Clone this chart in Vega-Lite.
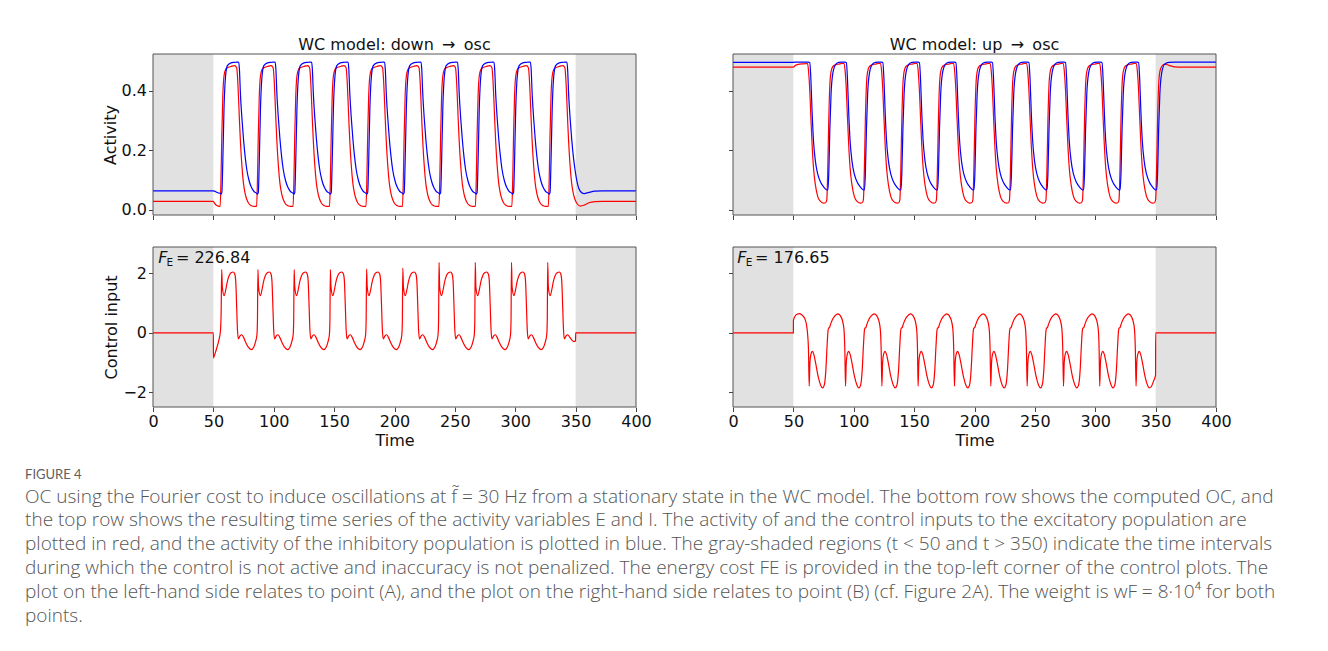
{
"$schema": "https://vega.github.io/schema/vega-lite/v6.json",
"autosize": {"type": "none"},
"padding": {"left": 153, "top": 54, "right": 1175, "bottom": 597},
"background": "white",
"columns": 2,
"bounds": "flush",
"spacing": {"row": 32, "column": 97},
"title": {
  "text": "FIGURE 4",
  "subtitle": [
    "OC using the Fourier cost to induce oscillations at f̃ = 30 Hz from a stationary state in the WC model. The bottom row shows the computed OC, and",
    "the top row shows the resulting time series of the activity variables E and I. The activity of and the control inputs to the excitatory population are",
    "plotted in red, and the activity of the inhibitory population is plotted in blue. The gray-shaded regions (t < 50 and t > 350) indicate the time intervals",
    "during which the control is not active and inaccuracy is not penalized. The energy cost FE is provided in the top-left corner of the control plots. The",
    "plot on the left-hand side relates to point (A), and the plot on the right-hand side relates to point (B) (cf. Figure 2A). The weight is wF = 8·10⁴ for both",
    "points."
  ],
  "orient": "bottom",
  "anchor": "start",
  "align": "left",
  "offset": 20,
  "dx": -77,
  "font": "Lato",
  "fontSize": 13,
  "fontWeight": 400,
  "color": "#606060",
  "subtitleFont": "Open Sans",
  "subtitleFontSize": 19,
  "subtitleFontWeight": 300,
  "subtitleColor": "#555555",
  "subtitleLineHeight": 23.8,
  "subtitlePadding": 6
},
"config": {
  "view": {"stroke": null},
  "axis": {"domain": false, "grid": false, "tickColor": "#444444", "tickSize": 4.5, "tickWidth": 1, "labelFlush": false, "labelFont": "DejaVu Sans", "labelFontSize": 16, "labelColor": "#111111", "labelPadding": 2, "titleFont": "DejaVu Sans", "titleFontSize": 16, "titleFontWeight": "normal", "titleColor": "#111111", "titlePadding": 3},
  "line": {"interpolate": "monotone", "strokeWidth": 1.2}
},
"concat": [
{
  "width": 483, "height": 161,
  "title": {"text": "WC model: down \u2009→\u2009 osc", "font": "DejaVu Sans", "fontSize": 16, "fontWeight": "normal", "color": "#111111", "offset": 1, "anchor": "middle"},
  "layer": [
    {"data": {"values": [{"a": 0, "b": 50}, {"a": 350, "b": 400}]},
     "mark": {"type": "rect", "color": "#e1e1e1"},
     "encoding": {"x": {"field": "a", "type": "quantitative", "scale": {"domain": [0, 400], "nice": false, "zero": false}, "axis": {"values": [0,50,100,150,200,250,300,350,400], "labels": false, "title": null}}, "x2": {"field": "b"}}},
    {"data": {"name": "tl"},
     "mark": {"type": "line", "color": "#ff0000"},
     "encoding": {"x": {"field": "t", "type": "quantitative", "scale": {"domain": [0, 400], "nice": false, "zero": false}, "axis": {"values": [0,50,100,150,200,250,300,350,400], "labels": false, "title": null}},
                  "y": {"field": "e", "type": "quantitative", "scale": {"domain": [-0.017, 0.524], "nice": false, "zero": false}, "axis": {"values": [0, 0.2, 0.4], "format": ".1f", "title": "Activity"}}}},
    {"data": {"name": "tl"},
     "mark": {"type": "line", "color": "#0000ff"},
     "encoding": {"x": {"field": "t", "type": "quantitative", "scale": {"domain": [0, 400], "nice": false, "zero": false}, "axis": {"values": [0,50,100,150,200,250,300,350,400], "labels": false, "title": null}},
                  "y": {"field": "i", "type": "quantitative", "scale": {"domain": [-0.017, 0.524], "nice": false, "zero": false}, "axis": {"values": [0, 0.2, 0.4], "format": ".1f", "title": "Activity"}}}},
    {"data": {"values": [{"a": 0, "b": 400, "c": -0.017, "d": 0.524}]},
     "mark": {"type": "rect", "filled": false, "stroke": "#555555", "strokeWidth": 1},
     "encoding": {"x": {"field": "a", "type": "quantitative", "scale": {"domain": [0, 400], "nice": false, "zero": false}, "axis": {"values": [0,50,100,150,200,250,300,350,400], "labels": false, "title": null}}, "x2": {"field": "b"},
                  "y": {"field": "c", "type": "quantitative", "scale": {"domain": [-0.017, 0.524], "nice": false, "zero": false}, "axis": {"values": [0, 0.2, 0.4], "format": ".1f", "title": "Activity"}}, "y2": {"field": "d"}}}
  ]
},
{
  "width": 483, "height": 161,
  "title": {"text": "WC model: up \u2009→\u2009 osc", "font": "DejaVu Sans", "fontSize": 16, "fontWeight": "normal", "color": "#111111", "offset": 1, "anchor": "middle"},
  "layer": [
    {"data": {"values": [{"a": 0, "b": 50}, {"a": 350, "b": 400}]},
     "mark": {"type": "rect", "color": "#e1e1e1"},
     "encoding": {"x": {"field": "a", "type": "quantitative", "scale": {"domain": [0, 400], "nice": false, "zero": false}, "axis": {"values": [0,50,100,150,200,250,300,350,400], "labels": false, "title": null}}, "x2": {"field": "b"}}},
    {"data": {"name": "tr"},
     "mark": {"type": "line", "color": "#ff0000"},
     "encoding": {"x": {"field": "t", "type": "quantitative", "scale": {"domain": [0, 400], "nice": false, "zero": false}, "axis": {"values": [0,50,100,150,200,250,300,350,400], "labels": false, "title": null}},
                  "y": {"field": "e", "type": "quantitative", "scale": {"domain": [-0.017, 0.524], "nice": false, "zero": false}, "axis": {"values": [0, 0.2, 0.4], "labels": false, "title": null}}}},
    {"data": {"name": "tr"},
     "mark": {"type": "line", "color": "#0000ff"},
     "encoding": {"x": {"field": "t", "type": "quantitative", "scale": {"domain": [0, 400], "nice": false, "zero": false}, "axis": {"values": [0,50,100,150,200,250,300,350,400], "labels": false, "title": null}},
                  "y": {"field": "i", "type": "quantitative", "scale": {"domain": [-0.017, 0.524], "nice": false, "zero": false}, "axis": {"values": [0, 0.2, 0.4], "labels": false, "title": null}}}},
    {"data": {"values": [{"a": 0, "b": 400, "c": -0.017, "d": 0.524}]},
     "mark": {"type": "rect", "filled": false, "stroke": "#555555", "strokeWidth": 1},
     "encoding": {"x": {"field": "a", "type": "quantitative", "scale": {"domain": [0, 400], "nice": false, "zero": false}, "axis": {"values": [0,50,100,150,200,250,300,350,400], "labels": false, "title": null}}, "x2": {"field": "b"},
                  "y": {"field": "c", "type": "quantitative", "scale": {"domain": [-0.017, 0.524], "nice": false, "zero": false}, "axis": {"values": [0, 0.2, 0.4], "labels": false, "title": null}}, "y2": {"field": "d"}}}
  ]
},
{
  "width": 483, "height": 160,
  "layer": [
    {"data": {"values": [{"a": 0, "b": 50}, {"a": 350, "b": 400}]},
     "mark": {"type": "rect", "color": "#e1e1e1"},
     "encoding": {"x": {"field": "a", "type": "quantitative", "scale": {"domain": [0, 400], "nice": false, "zero": false}, "axis": {"values": [0,50,100,150,200,250,300,350,400], "title": "Time"}}, "x2": {"field": "b"}}},
    {"data": {"name": "bl"},
     "mark": {"type": "line", "color": "#ff0000"},
     "encoding": {"x": {"field": "t", "type": "quantitative", "scale": {"domain": [0, 400], "nice": false, "zero": false}, "axis": {"values": [0,50,100,150,200,250,300,350,400], "title": "Time"}},
                  "y": {"field": "u", "type": "quantitative", "scale": {"domain": [-2.49, 2.89], "nice": false, "zero": false}, "axis": {"values": [-2, 0, 2], "title": "Control input"}}}},
    {"data": {"values": [{"a": 0, "b": 400, "c": -2.49, "d": 2.89}]},
     "mark": {"type": "rect", "filled": false, "stroke": "#555555", "strokeWidth": 1},
     "encoding": {"x": {"field": "a", "type": "quantitative", "scale": {"domain": [0, 400], "nice": false, "zero": false}, "axis": {"values": [0,50,100,150,200,250,300,350,400], "title": "Time"}}, "x2": {"field": "b"},
                  "y": {"field": "c", "type": "quantitative", "scale": {"domain": [-2.49, 2.89], "nice": false, "zero": false}, "axis": {"values": [-2, 0, 2], "title": "Control input"}}, "y2": {"field": "d"}}},
    {"data": {"values": [{"t": 4.3, "u": 2.52}]},
     "mark": {"type": "text", "text": "F", "font": "DejaVu Sans", "fontSize": 16, "fontStyle": "italic", "align": "left", "baseline": "middle", "color": "#111111"},
     "encoding": {"x": {"field": "t", "type": "quantitative", "scale": {"domain": [0, 400], "nice": false, "zero": false}, "axis": {"values": [0,50,100,150,200,250,300,350,400], "title": "Time"}},
                  "y": {"field": "u", "type": "quantitative", "scale": {"domain": [-2.49, 2.89], "nice": false, "zero": false}, "axis": {"values": [-2, 0, 2], "title": "Control input"}}}},
    {"data": {"values": [{"t": 11.2, "u": 2.36}]},
     "mark": {"type": "text", "text": "E", "font": "DejaVu Sans", "fontSize": 10.5, "align": "left", "baseline": "middle", "color": "#111111"},
     "encoding": {"x": {"field": "t", "type": "quantitative", "scale": {"domain": [0, 400], "nice": false, "zero": false}, "axis": {"values": [0,50,100,150,200,250,300,350,400], "title": "Time"}},
                  "y": {"field": "u", "type": "quantitative", "scale": {"domain": [-2.49, 2.89], "nice": false, "zero": false}, "axis": {"values": [-2, 0, 2], "title": "Control input"}}}},
    {"data": {"values": [{"t": 19, "u": 2.52}]},
     "mark": {"type": "text", "text": "= 226.84", "font": "DejaVu Sans", "fontSize": 16, "align": "left", "baseline": "middle", "color": "#111111"},
     "encoding": {"x": {"field": "t", "type": "quantitative", "scale": {"domain": [0, 400], "nice": false, "zero": false}, "axis": {"values": [0,50,100,150,200,250,300,350,400], "title": "Time"}},
                  "y": {"field": "u", "type": "quantitative", "scale": {"domain": [-2.49, 2.89], "nice": false, "zero": false}, "axis": {"values": [-2, 0, 2], "title": "Control input"}}}}
  ]
},
{
  "width": 483, "height": 160,
  "layer": [
    {"data": {"values": [{"a": 0, "b": 50}, {"a": 350, "b": 400}]},
     "mark": {"type": "rect", "color": "#e1e1e1"},
     "encoding": {"x": {"field": "a", "type": "quantitative", "scale": {"domain": [0, 400], "nice": false, "zero": false}, "axis": {"values": [0,50,100,150,200,250,300,350,400], "title": "Time"}}, "x2": {"field": "b"}}},
    {"data": {"name": "br"},
     "mark": {"type": "line", "color": "#ff0000"},
     "encoding": {"x": {"field": "t", "type": "quantitative", "scale": {"domain": [0, 400], "nice": false, "zero": false}, "axis": {"values": [0,50,100,150,200,250,300,350,400], "title": "Time"}},
                  "y": {"field": "u", "type": "quantitative", "scale": {"domain": [-2.49, 2.89], "nice": false, "zero": false}, "axis": {"values": [-2, 0, 2], "labels": false, "title": null}}}},
    {"data": {"values": [{"a": 0, "b": 400, "c": -2.49, "d": 2.89}]},
     "mark": {"type": "rect", "filled": false, "stroke": "#555555", "strokeWidth": 1},
     "encoding": {"x": {"field": "a", "type": "quantitative", "scale": {"domain": [0, 400], "nice": false, "zero": false}, "axis": {"values": [0,50,100,150,200,250,300,350,400], "title": "Time"}}, "x2": {"field": "b"},
                  "y": {"field": "c", "type": "quantitative", "scale": {"domain": [-2.49, 2.89], "nice": false, "zero": false}, "axis": {"values": [-2, 0, 2], "labels": false, "title": null}}, "y2": {"field": "d"}}},
    {"data": {"values": [{"t": 3.6, "u": 2.52}]},
     "mark": {"type": "text", "text": "F", "font": "DejaVu Sans", "fontSize": 16, "fontStyle": "italic", "align": "left", "baseline": "middle", "color": "#111111"},
     "encoding": {"x": {"field": "t", "type": "quantitative", "scale": {"domain": [0, 400], "nice": false, "zero": false}, "axis": {"values": [0,50,100,150,200,250,300,350,400], "title": "Time"}},
                  "y": {"field": "u", "type": "quantitative", "scale": {"domain": [-2.49, 2.89], "nice": false, "zero": false}, "axis": {"values": [-2, 0, 2], "labels": false, "title": null}}}},
    {"data": {"values": [{"t": 10.5, "u": 2.36}]},
     "mark": {"type": "text", "text": "E", "font": "DejaVu Sans", "fontSize": 10.5, "align": "left", "baseline": "middle", "color": "#111111"},
     "encoding": {"x": {"field": "t", "type": "quantitative", "scale": {"domain": [0, 400], "nice": false, "zero": false}, "axis": {"values": [0,50,100,150,200,250,300,350,400], "title": "Time"}},
                  "y": {"field": "u", "type": "quantitative", "scale": {"domain": [-2.49, 2.89], "nice": false, "zero": false}, "axis": {"values": [-2, 0, 2], "labels": false, "title": null}}}},
    {"data": {"values": [{"t": 18.3, "u": 2.52}]},
     "mark": {"type": "text", "text": "= 176.65", "font": "DejaVu Sans", "fontSize": 16, "align": "left", "baseline": "middle", "color": "#111111"},
     "encoding": {"x": {"field": "t", "type": "quantitative", "scale": {"domain": [0, 400], "nice": false, "zero": false}, "axis": {"values": [0,50,100,150,200,250,300,350,400], "title": "Time"}},
                  "y": {"field": "u", "type": "quantitative", "scale": {"domain": [-2.49, 2.89], "nice": false, "zero": false}, "axis": {"values": [-2, 0, 2], "labels": false, "title": null}}}}
  ]
}
],
"datasets": {
"tl": [
{"t":0,"e":0.029,"i":0.064},{"t":50,"e":0.029,"i":0.064},{"t":51,"e":0.022,"i":0.063},{"t":52.5,"e":0.016,"i":0.06},{"t":54.2,"e":0.013,"i":0.057},
{"t":55.6,"e":0.012,"i":0.056},{"t":56.3,"e":0.1,"i":0.053},{"t":57,"e":0.25,"i":0.058},{"t":57.8,"e":0.38,"i":0.16},{"t":58.8,"e":0.45,"i":0.34},{"t":60.1,"e":0.472,"i":0.45},{"t":61.6,"e":0.478,"i":0.485},{"t":64.6,"e":0.482,"i":0.494},{"t":67.6,"e":0.485,"i":0.496},{"t":69.3,"e":0.478,"i":0.497},{"t":70.1,"e":0.44,"i":0.497},{"t":70.9,"e":0.37,"i":0.496},{"t":71.6,"e":0.3,"i":0.47},{"t":72.4,"e":0.23,"i":0.39},{"t":73.6,"e":0.15,"i":0.31},{"t":74.9,"e":0.09,"i":0.24},{"t":76.3,"e":0.055,"i":0.18},{"t":77.7,"e":0.035,"i":0.135},{"t":79.6,"e":0.02,"i":0.098},{"t":81.6,"e":0.014,"i":0.075},{"t":83.6,"e":0.012,"i":0.062},
{"t":85.8,"e":0.012,"i":0.056},{"t":86.5,"e":0.1,"i":0.053},{"t":87.2,"e":0.25,"i":0.058},{"t":88,"e":0.38,"i":0.16},{"t":89,"e":0.45,"i":0.34},{"t":90.3,"e":0.472,"i":0.45},{"t":91.8,"e":0.478,"i":0.485},{"t":94.8,"e":0.482,"i":0.494},{"t":97.8,"e":0.485,"i":0.496},{"t":99.5,"e":0.478,"i":0.497},{"t":100.3,"e":0.44,"i":0.497},{"t":101.1,"e":0.37,"i":0.496},{"t":101.8,"e":0.3,"i":0.47},{"t":102.6,"e":0.23,"i":0.39},{"t":103.8,"e":0.15,"i":0.31},{"t":105.1,"e":0.09,"i":0.24},{"t":106.5,"e":0.055,"i":0.18},{"t":107.9,"e":0.035,"i":0.135},{"t":109.8,"e":0.02,"i":0.098},{"t":111.8,"e":0.014,"i":0.075},{"t":113.8,"e":0.012,"i":0.062},
{"t":116,"e":0.012,"i":0.056},{"t":116.7,"e":0.1,"i":0.053},{"t":117.4,"e":0.25,"i":0.058},{"t":118.2,"e":0.38,"i":0.16},{"t":119.2,"e":0.45,"i":0.34},{"t":120.5,"e":0.472,"i":0.45},{"t":122,"e":0.478,"i":0.485},{"t":125,"e":0.482,"i":0.494},{"t":128,"e":0.485,"i":0.496},{"t":129.7,"e":0.478,"i":0.497},{"t":130.5,"e":0.44,"i":0.497},{"t":131.3,"e":0.37,"i":0.496},{"t":132,"e":0.3,"i":0.47},{"t":132.8,"e":0.23,"i":0.39},{"t":134,"e":0.15,"i":0.31},{"t":135.3,"e":0.09,"i":0.24},{"t":136.7,"e":0.055,"i":0.18},{"t":138.1,"e":0.035,"i":0.135},{"t":140,"e":0.02,"i":0.098},{"t":142,"e":0.014,"i":0.075},{"t":144,"e":0.012,"i":0.062},
{"t":146.2,"e":0.012,"i":0.056},{"t":146.9,"e":0.1,"i":0.053},{"t":147.6,"e":0.25,"i":0.058},{"t":148.4,"e":0.38,"i":0.16},{"t":149.4,"e":0.45,"i":0.34},{"t":150.7,"e":0.472,"i":0.45},{"t":152.2,"e":0.478,"i":0.485},{"t":155.2,"e":0.482,"i":0.494},{"t":158.2,"e":0.485,"i":0.496},{"t":159.9,"e":0.478,"i":0.497},{"t":160.7,"e":0.44,"i":0.497},{"t":161.5,"e":0.37,"i":0.496},{"t":162.2,"e":0.3,"i":0.47},{"t":163,"e":0.23,"i":0.39},{"t":164.2,"e":0.15,"i":0.31},{"t":165.5,"e":0.09,"i":0.24},{"t":166.9,"e":0.055,"i":0.18},{"t":168.3,"e":0.035,"i":0.135},{"t":170.2,"e":0.02,"i":0.098},{"t":172.2,"e":0.014,"i":0.075},{"t":174.2,"e":0.012,"i":0.062},
{"t":176.4,"e":0.012,"i":0.056},{"t":177.1,"e":0.1,"i":0.053},{"t":177.8,"e":0.25,"i":0.058},{"t":178.6,"e":0.38,"i":0.16},{"t":179.6,"e":0.45,"i":0.34},{"t":180.9,"e":0.472,"i":0.45},{"t":182.4,"e":0.478,"i":0.485},{"t":185.4,"e":0.482,"i":0.494},{"t":188.4,"e":0.485,"i":0.496},{"t":190.1,"e":0.478,"i":0.497},{"t":190.9,"e":0.44,"i":0.497},{"t":191.7,"e":0.37,"i":0.496},{"t":192.4,"e":0.3,"i":0.47},{"t":193.2,"e":0.23,"i":0.39},{"t":194.4,"e":0.15,"i":0.31},{"t":195.7,"e":0.09,"i":0.24},{"t":197.1,"e":0.055,"i":0.18},{"t":198.5,"e":0.035,"i":0.135},{"t":200.4,"e":0.02,"i":0.098},{"t":202.4,"e":0.014,"i":0.075},{"t":204.4,"e":0.012,"i":0.062},
{"t":206.6,"e":0.012,"i":0.056},{"t":207.3,"e":0.1,"i":0.053},{"t":208,"e":0.25,"i":0.058},{"t":208.8,"e":0.38,"i":0.16},{"t":209.8,"e":0.45,"i":0.34},{"t":211.1,"e":0.472,"i":0.45},{"t":212.6,"e":0.478,"i":0.485},{"t":215.6,"e":0.482,"i":0.494},{"t":218.6,"e":0.485,"i":0.496},{"t":220.3,"e":0.478,"i":0.497},{"t":221.1,"e":0.44,"i":0.497},{"t":221.9,"e":0.37,"i":0.496},{"t":222.6,"e":0.3,"i":0.47},{"t":223.4,"e":0.23,"i":0.39},{"t":224.6,"e":0.15,"i":0.31},{"t":225.9,"e":0.09,"i":0.24},{"t":227.3,"e":0.055,"i":0.18},{"t":228.7,"e":0.035,"i":0.135},{"t":230.6,"e":0.02,"i":0.098},{"t":232.6,"e":0.014,"i":0.075},{"t":234.6,"e":0.012,"i":0.062},
{"t":236.8,"e":0.012,"i":0.056},{"t":237.5,"e":0.1,"i":0.053},{"t":238.2,"e":0.25,"i":0.058},{"t":239,"e":0.38,"i":0.16},{"t":240,"e":0.45,"i":0.34},{"t":241.3,"e":0.472,"i":0.45},{"t":242.8,"e":0.478,"i":0.485},{"t":245.8,"e":0.482,"i":0.494},{"t":248.8,"e":0.485,"i":0.496},{"t":250.5,"e":0.478,"i":0.497},{"t":251.3,"e":0.44,"i":0.497},{"t":252.1,"e":0.37,"i":0.496},{"t":252.8,"e":0.3,"i":0.47},{"t":253.6,"e":0.23,"i":0.39},{"t":254.8,"e":0.15,"i":0.31},{"t":256.1,"e":0.09,"i":0.24},{"t":257.5,"e":0.055,"i":0.18},{"t":258.9,"e":0.035,"i":0.135},{"t":260.8,"e":0.02,"i":0.098},{"t":262.8,"e":0.014,"i":0.075},{"t":264.8,"e":0.012,"i":0.062},
{"t":267,"e":0.012,"i":0.056},{"t":267.7,"e":0.1,"i":0.053},{"t":268.4,"e":0.25,"i":0.058},{"t":269.2,"e":0.38,"i":0.16},{"t":270.2,"e":0.45,"i":0.34},{"t":271.5,"e":0.472,"i":0.45},{"t":273,"e":0.478,"i":0.485},{"t":276,"e":0.482,"i":0.494},{"t":279,"e":0.485,"i":0.496},{"t":280.7,"e":0.478,"i":0.497},{"t":281.5,"e":0.44,"i":0.497},{"t":282.3,"e":0.37,"i":0.496},{"t":283,"e":0.3,"i":0.47},{"t":283.8,"e":0.23,"i":0.39},{"t":285,"e":0.15,"i":0.31},{"t":286.3,"e":0.09,"i":0.24},{"t":287.7,"e":0.055,"i":0.18},{"t":289.1,"e":0.035,"i":0.135},{"t":291,"e":0.02,"i":0.098},{"t":293,"e":0.014,"i":0.075},{"t":295,"e":0.012,"i":0.062},
{"t":297.2,"e":0.012,"i":0.056},{"t":297.9,"e":0.1,"i":0.053},{"t":298.6,"e":0.25,"i":0.058},{"t":299.4,"e":0.38,"i":0.16},{"t":300.4,"e":0.45,"i":0.34},{"t":301.7,"e":0.472,"i":0.45},{"t":303.2,"e":0.478,"i":0.485},{"t":306.2,"e":0.482,"i":0.494},{"t":309.2,"e":0.485,"i":0.496},{"t":310.9,"e":0.478,"i":0.497},{"t":311.7,"e":0.44,"i":0.497},{"t":312.5,"e":0.37,"i":0.496},{"t":313.2,"e":0.3,"i":0.47},{"t":314,"e":0.23,"i":0.39},{"t":315.2,"e":0.15,"i":0.31},{"t":316.5,"e":0.09,"i":0.24},{"t":317.9,"e":0.055,"i":0.18},{"t":319.3,"e":0.035,"i":0.135},{"t":321.2,"e":0.02,"i":0.098},{"t":323.2,"e":0.014,"i":0.075},{"t":325.2,"e":0.012,"i":0.062},
{"t":327.4,"e":0.012,"i":0.056},{"t":328.1,"e":0.1,"i":0.053},{"t":328.8,"e":0.25,"i":0.058},{"t":329.6,"e":0.38,"i":0.16},{"t":330.6,"e":0.45,"i":0.34},{"t":331.9,"e":0.472,"i":0.45},{"t":333.4,"e":0.478,"i":0.485},{"t":336.4,"e":0.482,"i":0.494},{"t":339.4,"e":0.485,"i":0.496},{"t":341.1,"e":0.478,"i":0.497},{"t":341.9,"e":0.44,"i":0.497},{"t":342.7,"e":0.37,"i":0.496},{"t":343.4,"e":0.3,"i":0.47},{"t":344.2,"e":0.23,"i":0.39},{"t":345.4,"e":0.15,"i":0.31},{"t":346.7,"e":0.09,"i":0.24},{"t":348.1,"e":0.055,"i":0.18},{"t":349.5,"e":0.035,"i":0.135},
{"t":351.4,"e":0.02,"i":0.09},{"t":354,"e":0.013,"i":0.062},{"t":357,"e":0.016,"i":0.055},{"t":361,"e":0.024,"i":0.059},{"t":366,"e":0.028,"i":0.063},{"t":372,"e":0.029,"i":0.064},{"t":400,"e":0.029,"i":0.064}
],
"tr": [
{"t":0,"e":0.48,"i":0.496},{"t":50,"e":0.48,"i":0.496},{"t":51.5,"e":0.485,"i":0.497},{"t":54,"e":0.489,"i":0.497},{"t":58,"e":0.491,"i":0.497},
{"t":61.7,"e":0.492,"i":0.497},{"t":62.5,"e":0.47,"i":0.497},{"t":63.6,"e":0.4,"i":0.495},{"t":64.5,"e":0.31,"i":0.44},{"t":65.5,"e":0.22,"i":0.33},{"t":66.7,"e":0.14,"i":0.23},{"t":68.2,"e":0.085,"i":0.165},{"t":70.2,"e":0.045,"i":0.12},{"t":72.7,"e":0.028,"i":0.092},{"t":75.2,"e":0.023,"i":0.077},{"t":76.7,"e":0.024,"i":0.07},{"t":77.7,"e":0.035,"i":0.067},{"t":78.5,"e":0.14,"i":0.068},{"t":79.3,"e":0.3,"i":0.12},{"t":80.2,"e":0.42,"i":0.27},{"t":81.2,"e":0.465,"i":0.39},{"t":82.7,"e":0.482,"i":0.46},{"t":85.2,"e":0.488,"i":0.49},{"t":87.7,"e":0.49,"i":0.496},{"t":90.2,"e":0.492,"i":0.497},
{"t":92,"e":0.492,"i":0.497},{"t":92.8,"e":0.47,"i":0.497},{"t":93.9,"e":0.4,"i":0.495},{"t":94.8,"e":0.31,"i":0.44},{"t":95.8,"e":0.22,"i":0.33},{"t":97,"e":0.14,"i":0.23},{"t":98.5,"e":0.085,"i":0.165},{"t":100.5,"e":0.045,"i":0.12},{"t":103,"e":0.028,"i":0.092},{"t":105.5,"e":0.023,"i":0.077},{"t":107,"e":0.024,"i":0.07},{"t":108,"e":0.035,"i":0.067},{"t":108.8,"e":0.14,"i":0.068},{"t":109.6,"e":0.3,"i":0.12},{"t":110.5,"e":0.42,"i":0.27},{"t":111.5,"e":0.465,"i":0.39},{"t":113,"e":0.482,"i":0.46},{"t":115.5,"e":0.488,"i":0.49},{"t":118,"e":0.49,"i":0.496},{"t":120.5,"e":0.492,"i":0.497},
{"t":122.2,"e":0.492,"i":0.497},{"t":123,"e":0.47,"i":0.497},{"t":124.1,"e":0.4,"i":0.495},{"t":125,"e":0.31,"i":0.44},{"t":126,"e":0.22,"i":0.33},{"t":127.2,"e":0.14,"i":0.23},{"t":128.7,"e":0.085,"i":0.165},{"t":130.7,"e":0.045,"i":0.12},{"t":133.2,"e":0.028,"i":0.092},{"t":135.7,"e":0.023,"i":0.077},{"t":137.2,"e":0.024,"i":0.07},{"t":138.2,"e":0.035,"i":0.067},{"t":139,"e":0.14,"i":0.068},{"t":139.8,"e":0.3,"i":0.12},{"t":140.7,"e":0.42,"i":0.27},{"t":141.7,"e":0.465,"i":0.39},{"t":143.2,"e":0.482,"i":0.46},{"t":145.7,"e":0.488,"i":0.49},{"t":148.2,"e":0.49,"i":0.496},{"t":150.7,"e":0.492,"i":0.497},
{"t":152.5,"e":0.492,"i":0.497},{"t":153.3,"e":0.47,"i":0.497},{"t":154.4,"e":0.4,"i":0.495},{"t":155.3,"e":0.31,"i":0.44},{"t":156.3,"e":0.22,"i":0.33},{"t":157.5,"e":0.14,"i":0.23},{"t":159,"e":0.085,"i":0.165},{"t":161,"e":0.045,"i":0.12},{"t":163.5,"e":0.028,"i":0.092},{"t":166,"e":0.023,"i":0.077},{"t":167.5,"e":0.024,"i":0.07},{"t":168.5,"e":0.035,"i":0.067},{"t":169.3,"e":0.14,"i":0.068},{"t":170.1,"e":0.3,"i":0.12},{"t":171,"e":0.42,"i":0.27},{"t":172,"e":0.465,"i":0.39},{"t":173.5,"e":0.482,"i":0.46},{"t":176,"e":0.488,"i":0.49},{"t":178.5,"e":0.49,"i":0.496},{"t":181,"e":0.492,"i":0.497},
{"t":182.7,"e":0.492,"i":0.497},{"t":183.5,"e":0.47,"i":0.497},{"t":184.6,"e":0.4,"i":0.495},{"t":185.5,"e":0.31,"i":0.44},{"t":186.5,"e":0.22,"i":0.33},{"t":187.7,"e":0.14,"i":0.23},{"t":189.2,"e":0.085,"i":0.165},{"t":191.2,"e":0.045,"i":0.12},{"t":193.7,"e":0.028,"i":0.092},{"t":196.2,"e":0.023,"i":0.077},{"t":197.7,"e":0.024,"i":0.07},{"t":198.7,"e":0.035,"i":0.067},{"t":199.5,"e":0.14,"i":0.068},{"t":200.3,"e":0.3,"i":0.12},{"t":201.2,"e":0.42,"i":0.27},{"t":202.2,"e":0.465,"i":0.39},{"t":203.7,"e":0.482,"i":0.46},{"t":206.2,"e":0.488,"i":0.49},{"t":208.7,"e":0.49,"i":0.496},{"t":211.2,"e":0.492,"i":0.497},
{"t":213,"e":0.492,"i":0.497},{"t":213.8,"e":0.47,"i":0.497},{"t":214.9,"e":0.4,"i":0.495},{"t":215.8,"e":0.31,"i":0.44},{"t":216.8,"e":0.22,"i":0.33},{"t":218,"e":0.14,"i":0.23},{"t":219.5,"e":0.085,"i":0.165},{"t":221.5,"e":0.045,"i":0.12},{"t":224,"e":0.028,"i":0.092},{"t":226.5,"e":0.023,"i":0.077},{"t":228,"e":0.024,"i":0.07},{"t":229,"e":0.035,"i":0.067},{"t":229.8,"e":0.14,"i":0.068},{"t":230.6,"e":0.3,"i":0.12},{"t":231.5,"e":0.42,"i":0.27},{"t":232.5,"e":0.465,"i":0.39},{"t":234,"e":0.482,"i":0.46},{"t":236.5,"e":0.488,"i":0.49},{"t":239,"e":0.49,"i":0.496},{"t":241.5,"e":0.492,"i":0.497},
{"t":243.2,"e":0.492,"i":0.497},{"t":244,"e":0.47,"i":0.497},{"t":245.1,"e":0.4,"i":0.495},{"t":246,"e":0.31,"i":0.44},{"t":247,"e":0.22,"i":0.33},{"t":248.2,"e":0.14,"i":0.23},{"t":249.7,"e":0.085,"i":0.165},{"t":251.7,"e":0.045,"i":0.12},{"t":254.2,"e":0.028,"i":0.092},{"t":256.7,"e":0.023,"i":0.077},{"t":258.2,"e":0.024,"i":0.07},{"t":259.2,"e":0.035,"i":0.067},{"t":260,"e":0.14,"i":0.068},{"t":260.8,"e":0.3,"i":0.12},{"t":261.7,"e":0.42,"i":0.27},{"t":262.7,"e":0.465,"i":0.39},{"t":264.2,"e":0.482,"i":0.46},{"t":266.7,"e":0.488,"i":0.49},{"t":269.2,"e":0.49,"i":0.496},{"t":271.7,"e":0.492,"i":0.497},
{"t":273.5,"e":0.492,"i":0.497},{"t":274.3,"e":0.47,"i":0.497},{"t":275.4,"e":0.4,"i":0.495},{"t":276.3,"e":0.31,"i":0.44},{"t":277.3,"e":0.22,"i":0.33},{"t":278.5,"e":0.14,"i":0.23},{"t":280,"e":0.085,"i":0.165},{"t":282,"e":0.045,"i":0.12},{"t":284.5,"e":0.028,"i":0.092},{"t":287,"e":0.023,"i":0.077},{"t":288.5,"e":0.024,"i":0.07},{"t":289.5,"e":0.035,"i":0.067},{"t":290.3,"e":0.14,"i":0.068},{"t":291.1,"e":0.3,"i":0.12},{"t":292,"e":0.42,"i":0.27},{"t":293,"e":0.465,"i":0.39},{"t":294.5,"e":0.482,"i":0.46},{"t":297,"e":0.488,"i":0.49},{"t":299.5,"e":0.49,"i":0.496},{"t":302,"e":0.492,"i":0.497},
{"t":303.7,"e":0.492,"i":0.497},{"t":304.5,"e":0.47,"i":0.497},{"t":305.6,"e":0.4,"i":0.495},{"t":306.5,"e":0.31,"i":0.44},{"t":307.5,"e":0.22,"i":0.33},{"t":308.7,"e":0.14,"i":0.23},{"t":310.2,"e":0.085,"i":0.165},{"t":312.2,"e":0.045,"i":0.12},{"t":314.7,"e":0.028,"i":0.092},{"t":317.2,"e":0.023,"i":0.077},{"t":318.7,"e":0.024,"i":0.07},{"t":319.7,"e":0.035,"i":0.067},{"t":320.5,"e":0.14,"i":0.068},{"t":321.3,"e":0.3,"i":0.12},{"t":322.2,"e":0.42,"i":0.27},{"t":323.2,"e":0.465,"i":0.39},{"t":324.7,"e":0.482,"i":0.46},{"t":327.2,"e":0.488,"i":0.49},{"t":329.7,"e":0.49,"i":0.496},{"t":332.2,"e":0.492,"i":0.497},
{"t":334,"e":0.492,"i":0.497},{"t":334.8,"e":0.47,"i":0.497},{"t":335.9,"e":0.4,"i":0.495},{"t":336.8,"e":0.31,"i":0.44},{"t":337.8,"e":0.22,"i":0.33},{"t":339,"e":0.14,"i":0.23},{"t":340.5,"e":0.085,"i":0.165},{"t":342.5,"e":0.045,"i":0.12},{"t":345,"e":0.028,"i":0.092},{"t":347.5,"e":0.023,"i":0.077},{"t":349,"e":0.024,"i":0.07},{"t":350,"e":0.035,"i":0.067},{"t":350.8,"e":0.14,"i":0.068},{"t":351.6,"e":0.3,"i":0.12},{"t":352.5,"e":0.42,"i":0.27},{"t":353.5,"e":0.465,"i":0.39},{"t":355,"e":0.482,"i":0.46},
{"t":357.5,"e":0.49,"i":0.49},{"t":361,"e":0.486,"i":0.496},{"t":366,"e":0.481,"i":0.497},{"t":372,"e":0.48,"i":0.497},{"t":400,"e":0.48,"i":0.497}
],
"bl": [
{"t":0,"u":0},{"t":50,"u":0},{"t":50.05,"u":-0.84},{"t":51.5,"u":-0.68},{"t":53,"u":-0.48},{"t":54.5,"u":-0.25},{"t":55.8,"u":0.05},{"t":56.4,"u":0.6},
{"t":56.9,"u":2.13},{"t":57.4,"u":1.55},{"t":58.9,"u":1.25},{"t":60.1,"u":1.42},{"t":61.5,"u":1.72},{"t":63.1,"u":1.93},{"t":64.9,"u":2.03},{"t":66.4,"u":2.05},{"t":67.7,"u":1.98},{"t":68.5,"u":1.75},{"t":69.2,"u":1},{"t":69.9,"u":0.15},{"t":70.7,"u":-0.2},{"t":72.1,"u":-0.1},{"t":73.5,"u":-0.06},{"t":74.9,"u":-0.14},{"t":76.9,"u":-0.33},{"t":78.9,"u":-0.48},{"t":81.4,"u":-0.56},{"t":83.4,"u":-0.48},{"t":84.9,"u":-0.3},{"t":86.1,"u":-0.05},{"t":86.5,"u":0.4},
{"t":86.9,"u":2.13},{"t":87.4,"u":1.55},{"t":88.9,"u":1.25},{"t":90.1,"u":1.42},{"t":91.5,"u":1.72},{"t":93.1,"u":1.93},{"t":94.9,"u":2.03},{"t":96.4,"u":2.05},{"t":97.7,"u":1.98},{"t":98.5,"u":1.75},{"t":99.2,"u":1},{"t":99.9,"u":0.15},{"t":100.7,"u":-0.2},{"t":102.1,"u":-0.1},{"t":103.5,"u":-0.06},{"t":104.9,"u":-0.14},{"t":106.9,"u":-0.33},{"t":108.9,"u":-0.48},{"t":111.4,"u":-0.56},{"t":113.4,"u":-0.48},{"t":114.9,"u":-0.3},{"t":116.1,"u":-0.05},{"t":116.5,"u":0.4},
{"t":116.9,"u":2.13},{"t":117.4,"u":1.55},{"t":118.9,"u":1.25},{"t":120.1,"u":1.42},{"t":121.5,"u":1.72},{"t":123.1,"u":1.93},{"t":124.9,"u":2.03},{"t":126.4,"u":2.05},{"t":127.7,"u":1.98},{"t":128.5,"u":1.75},{"t":129.2,"u":1},{"t":129.9,"u":0.15},{"t":130.7,"u":-0.2},{"t":132.1,"u":-0.1},{"t":133.5,"u":-0.06},{"t":134.9,"u":-0.14},{"t":136.9,"u":-0.33},{"t":138.9,"u":-0.48},{"t":141.4,"u":-0.56},{"t":143.4,"u":-0.48},{"t":144.9,"u":-0.3},{"t":146.1,"u":-0.05},{"t":146.5,"u":0.4},
{"t":146.9,"u":2.13},{"t":147.4,"u":1.55},{"t":148.9,"u":1.25},{"t":150.1,"u":1.42},{"t":151.5,"u":1.72},{"t":153.1,"u":1.93},{"t":154.9,"u":2.03},{"t":156.4,"u":2.05},{"t":157.7,"u":1.98},{"t":158.5,"u":1.75},{"t":159.2,"u":1},{"t":159.9,"u":0.15},{"t":160.7,"u":-0.2},{"t":162.1,"u":-0.1},{"t":163.5,"u":-0.06},{"t":164.9,"u":-0.14},{"t":166.9,"u":-0.33},{"t":168.9,"u":-0.48},{"t":171.4,"u":-0.56},{"t":173.4,"u":-0.48},{"t":174.9,"u":-0.3},{"t":176.1,"u":-0.05},{"t":176.5,"u":0.4},
{"t":176.9,"u":2.15},{"t":177.4,"u":1.55},{"t":178.9,"u":1.25},{"t":180.1,"u":1.42},{"t":181.5,"u":1.72},{"t":183.1,"u":1.93},{"t":184.9,"u":2.03},{"t":186.4,"u":2.05},{"t":187.7,"u":1.98},{"t":188.5,"u":1.75},{"t":189.2,"u":1},{"t":189.9,"u":0.15},{"t":190.7,"u":-0.2},{"t":192.1,"u":-0.1},{"t":193.5,"u":-0.06},{"t":194.9,"u":-0.14},{"t":196.9,"u":-0.33},{"t":198.9,"u":-0.48},{"t":201.4,"u":-0.56},{"t":203.4,"u":-0.48},{"t":204.9,"u":-0.3},{"t":206.1,"u":-0.05},{"t":206.5,"u":0.4},
{"t":206.9,"u":2.18},{"t":207.4,"u":1.55},{"t":208.9,"u":1.25},{"t":210.1,"u":1.42},{"t":211.5,"u":1.72},{"t":213.1,"u":1.93},{"t":214.9,"u":2.03},{"t":216.4,"u":2.05},{"t":217.7,"u":1.98},{"t":218.5,"u":1.75},{"t":219.2,"u":1},{"t":219.9,"u":0.15},{"t":220.7,"u":-0.2},{"t":222.1,"u":-0.1},{"t":223.5,"u":-0.06},{"t":224.9,"u":-0.14},{"t":226.9,"u":-0.33},{"t":228.9,"u":-0.48},{"t":231.4,"u":-0.56},{"t":233.4,"u":-0.48},{"t":234.9,"u":-0.3},{"t":236.1,"u":-0.05},{"t":236.5,"u":0.4},
{"t":236.9,"u":2.37},{"t":237.4,"u":1.55},{"t":238.9,"u":1.25},{"t":240.1,"u":1.42},{"t":241.5,"u":1.72},{"t":243.1,"u":1.93},{"t":244.9,"u":2.03},{"t":246.4,"u":2.05},{"t":247.7,"u":1.98},{"t":248.5,"u":1.75},{"t":249.2,"u":1},{"t":249.9,"u":0.15},{"t":250.7,"u":-0.2},{"t":252.1,"u":-0.1},{"t":253.5,"u":-0.06},{"t":254.9,"u":-0.14},{"t":256.9,"u":-0.33},{"t":258.9,"u":-0.48},{"t":261.4,"u":-0.56},{"t":263.4,"u":-0.48},{"t":264.9,"u":-0.3},{"t":266.1,"u":-0.05},{"t":266.5,"u":0.4},
{"t":266.9,"u":2.37},{"t":267.4,"u":1.55},{"t":268.9,"u":1.25},{"t":270.1,"u":1.42},{"t":271.5,"u":1.72},{"t":273.1,"u":1.93},{"t":274.9,"u":2.03},{"t":276.4,"u":2.05},{"t":277.7,"u":1.98},{"t":278.5,"u":1.75},{"t":279.2,"u":1},{"t":279.9,"u":0.15},{"t":280.7,"u":-0.2},{"t":282.1,"u":-0.1},{"t":283.5,"u":-0.06},{"t":284.9,"u":-0.14},{"t":286.9,"u":-0.33},{"t":288.9,"u":-0.48},{"t":291.4,"u":-0.56},{"t":293.4,"u":-0.48},{"t":294.9,"u":-0.3},{"t":296.1,"u":-0.05},{"t":296.5,"u":0.4},
{"t":296.9,"u":2.37},{"t":297.4,"u":1.55},{"t":298.9,"u":1.25},{"t":300.1,"u":1.42},{"t":301.5,"u":1.72},{"t":303.1,"u":1.93},{"t":304.9,"u":2.03},{"t":306.4,"u":2.05},{"t":307.7,"u":1.98},{"t":308.5,"u":1.75},{"t":309.2,"u":1},{"t":309.9,"u":0.15},{"t":310.7,"u":-0.2},{"t":312.1,"u":-0.1},{"t":313.5,"u":-0.06},{"t":314.9,"u":-0.14},{"t":316.9,"u":-0.33},{"t":318.9,"u":-0.48},{"t":321.4,"u":-0.56},{"t":323.4,"u":-0.48},{"t":324.9,"u":-0.3},{"t":326.1,"u":-0.05},{"t":326.5,"u":0.4},
{"t":326.9,"u":2.37},{"t":327.4,"u":1.55},{"t":328.9,"u":1.25},{"t":330.1,"u":1.42},{"t":331.5,"u":1.72},{"t":333.1,"u":1.93},{"t":334.9,"u":2.03},{"t":336.4,"u":2.05},{"t":337.7,"u":1.98},{"t":338.5,"u":1.75},{"t":339.2,"u":1},{"t":339.9,"u":0.15},{"t":340.7,"u":-0.2},{"t":342.1,"u":-0.1},{"t":343.5,"u":-0.06},{"t":344.9,"u":-0.13},{"t":346.9,"u":-0.24},{"t":348.5,"u":-0.29},{"t":349.95,"u":-0.27},{"t":350.05,"u":0},{"t":400,"u":0}
],
"br": [
{"t":0,"u":0},{"t":50,"u":0},{"t":50.05,"u":0.42},{"t":51.5,"u":0.57},{"t":53,"u":0.63},{"t":55,"u":0.65},{"t":57.5,"u":0.59},{"t":59.8,"u":0.45},{"t":61.4,"u":0.12},{"t":62.5,"u":-0.55},
{"t":63.1,"u":-1.79},{"t":63.7,"u":-1},{"t":64.5,"u":-0.72},{"t":65.7,"u":-0.62},{"t":66.9,"u":-0.72},{"t":68.6,"u":-1.05},{"t":70.6,"u":-1.48},{"t":72.6,"u":-1.76},{"t":74.1,"u":-1.85},{"t":75.6,"u":-1.75},{"t":76.9,"u":-1.25},{"t":77.9,"u":-0.45},{"t":78.7,"u":0.08},{"t":79.2,"u":0.17},{"t":79.8,"u":0.17},{"t":80.7,"u":0.28},{"t":82.4,"u":0.45},{"t":84.6,"u":0.58},{"t":86.8,"u":0.64},{"t":88.9,"u":0.58},{"t":90.6,"u":0.42},{"t":91.9,"u":0.12},{"t":92.6,"u":-0.55},
{"t":93.2,"u":-1.79},{"t":93.8,"u":-1},{"t":94.6,"u":-0.72},{"t":95.8,"u":-0.62},{"t":97,"u":-0.72},{"t":98.7,"u":-1.05},{"t":100.7,"u":-1.48},{"t":102.7,"u":-1.76},{"t":104.2,"u":-1.85},{"t":105.7,"u":-1.75},{"t":107,"u":-1.25},{"t":108,"u":-0.45},{"t":108.8,"u":0.08},{"t":109.3,"u":0.17},{"t":109.9,"u":0.17},{"t":110.8,"u":0.28},{"t":112.5,"u":0.45},{"t":114.7,"u":0.58},{"t":116.9,"u":0.64},{"t":119,"u":0.58},{"t":120.7,"u":0.42},{"t":122,"u":0.12},{"t":122.7,"u":-0.55},
{"t":123.3,"u":-1.79},{"t":123.9,"u":-1},{"t":124.7,"u":-0.72},{"t":125.9,"u":-0.62},{"t":127.1,"u":-0.72},{"t":128.8,"u":-1.05},{"t":130.8,"u":-1.48},{"t":132.8,"u":-1.76},{"t":134.3,"u":-1.85},{"t":135.8,"u":-1.75},{"t":137.1,"u":-1.25},{"t":138.1,"u":-0.45},{"t":138.9,"u":0.08},{"t":139.4,"u":0.17},{"t":140,"u":0.17},{"t":140.9,"u":0.28},{"t":142.6,"u":0.45},{"t":144.8,"u":0.58},{"t":147,"u":0.64},{"t":149.1,"u":0.58},{"t":150.8,"u":0.42},{"t":152.1,"u":0.12},{"t":152.8,"u":-0.55},
{"t":153.3,"u":-1.79},{"t":153.9,"u":-1},{"t":154.7,"u":-0.72},{"t":155.9,"u":-0.62},{"t":157.1,"u":-0.72},{"t":158.8,"u":-1.05},{"t":160.8,"u":-1.48},{"t":162.8,"u":-1.76},{"t":164.3,"u":-1.85},{"t":165.8,"u":-1.75},{"t":167.1,"u":-1.25},{"t":168.1,"u":-0.45},{"t":168.9,"u":0.08},{"t":169.4,"u":0.17},{"t":170,"u":0.17},{"t":170.9,"u":0.28},{"t":172.6,"u":0.45},{"t":174.8,"u":0.58},{"t":177,"u":0.64},{"t":179.1,"u":0.58},{"t":180.8,"u":0.42},{"t":182.1,"u":0.12},{"t":182.8,"u":-0.55},
{"t":183.4,"u":-1.79},{"t":184,"u":-1},{"t":184.8,"u":-0.72},{"t":186,"u":-0.62},{"t":187.2,"u":-0.72},{"t":188.9,"u":-1.05},{"t":190.9,"u":-1.48},{"t":192.9,"u":-1.76},{"t":194.4,"u":-1.85},{"t":195.9,"u":-1.75},{"t":197.2,"u":-1.25},{"t":198.2,"u":-0.45},{"t":199,"u":0.08},{"t":199.5,"u":0.17},{"t":200.1,"u":0.17},{"t":201,"u":0.28},{"t":202.7,"u":0.45},{"t":204.9,"u":0.58},{"t":207.1,"u":0.64},{"t":209.2,"u":0.58},{"t":210.9,"u":0.42},{"t":212.2,"u":0.12},{"t":212.9,"u":-0.55},
{"t":213.5,"u":-1.79},{"t":214.1,"u":-1},{"t":214.9,"u":-0.72},{"t":216.1,"u":-0.62},{"t":217.3,"u":-0.72},{"t":219,"u":-1.05},{"t":221,"u":-1.48},{"t":223,"u":-1.76},{"t":224.5,"u":-1.85},{"t":226,"u":-1.75},{"t":227.3,"u":-1.25},{"t":228.3,"u":-0.45},{"t":229.1,"u":0.08},{"t":229.6,"u":0.17},{"t":230.2,"u":0.17},{"t":231.1,"u":0.28},{"t":232.8,"u":0.45},{"t":235,"u":0.58},{"t":237.2,"u":0.64},{"t":239.3,"u":0.58},{"t":241,"u":0.42},{"t":242.3,"u":0.12},{"t":243,"u":-0.55},
{"t":243.6,"u":-1.79},{"t":244.2,"u":-1},{"t":245,"u":-0.72},{"t":246.2,"u":-0.62},{"t":247.4,"u":-0.72},{"t":249.1,"u":-1.05},{"t":251.1,"u":-1.48},{"t":253.1,"u":-1.76},{"t":254.6,"u":-1.85},{"t":256.1,"u":-1.75},{"t":257.4,"u":-1.25},{"t":258.4,"u":-0.45},{"t":259.2,"u":0.08},{"t":259.7,"u":0.17},{"t":260.3,"u":0.17},{"t":261.2,"u":0.28},{"t":262.9,"u":0.45},{"t":265.1,"u":0.58},{"t":267.3,"u":0.64},{"t":269.4,"u":0.58},{"t":271.1,"u":0.42},{"t":272.4,"u":0.12},{"t":273.1,"u":-0.55},
{"t":273.7,"u":-1.79},{"t":274.3,"u":-1},{"t":275.1,"u":-0.72},{"t":276.3,"u":-0.62},{"t":277.5,"u":-0.72},{"t":279.2,"u":-1.05},{"t":281.2,"u":-1.48},{"t":283.2,"u":-1.76},{"t":284.7,"u":-1.85},{"t":286.2,"u":-1.75},{"t":287.5,"u":-1.25},{"t":288.5,"u":-0.45},{"t":289.3,"u":0.08},{"t":289.8,"u":0.17},{"t":290.4,"u":0.17},{"t":291.3,"u":0.28},{"t":293,"u":0.45},{"t":295.2,"u":0.58},{"t":297.4,"u":0.64},{"t":299.5,"u":0.58},{"t":301.2,"u":0.42},{"t":302.5,"u":0.12},{"t":303.2,"u":-0.55},
{"t":303.7,"u":-1.79},{"t":304.3,"u":-1},{"t":305.1,"u":-0.72},{"t":306.3,"u":-0.62},{"t":307.5,"u":-0.72},{"t":309.2,"u":-1.05},{"t":311.2,"u":-1.48},{"t":313.2,"u":-1.76},{"t":314.7,"u":-1.85},{"t":316.2,"u":-1.75},{"t":317.5,"u":-1.25},{"t":318.5,"u":-0.45},{"t":319.3,"u":0.08},{"t":319.8,"u":0.17},{"t":320.4,"u":0.17},{"t":321.3,"u":0.28},{"t":323,"u":0.45},{"t":325.2,"u":0.58},{"t":327.4,"u":0.64},{"t":329.5,"u":0.58},{"t":331.2,"u":0.42},{"t":332.5,"u":0.12},{"t":333.2,"u":-0.55},
{"t":333.8,"u":-1.79},{"t":334.4,"u":-1},{"t":335.2,"u":-0.72},{"t":336.4,"u":-0.62},{"t":337.6,"u":-0.72},{"t":339.3,"u":-1.05},{"t":341.3,"u":-1.48},{"t":343.3,"u":-1.76},{"t":344.8,"u":-1.85},{"t":346.5,"u":-1.8},{"t":348.3,"u":-1.62},{"t":349.95,"u":-1.42},{"t":350.05,"u":0},{"t":400,"u":0}
]
}
}
